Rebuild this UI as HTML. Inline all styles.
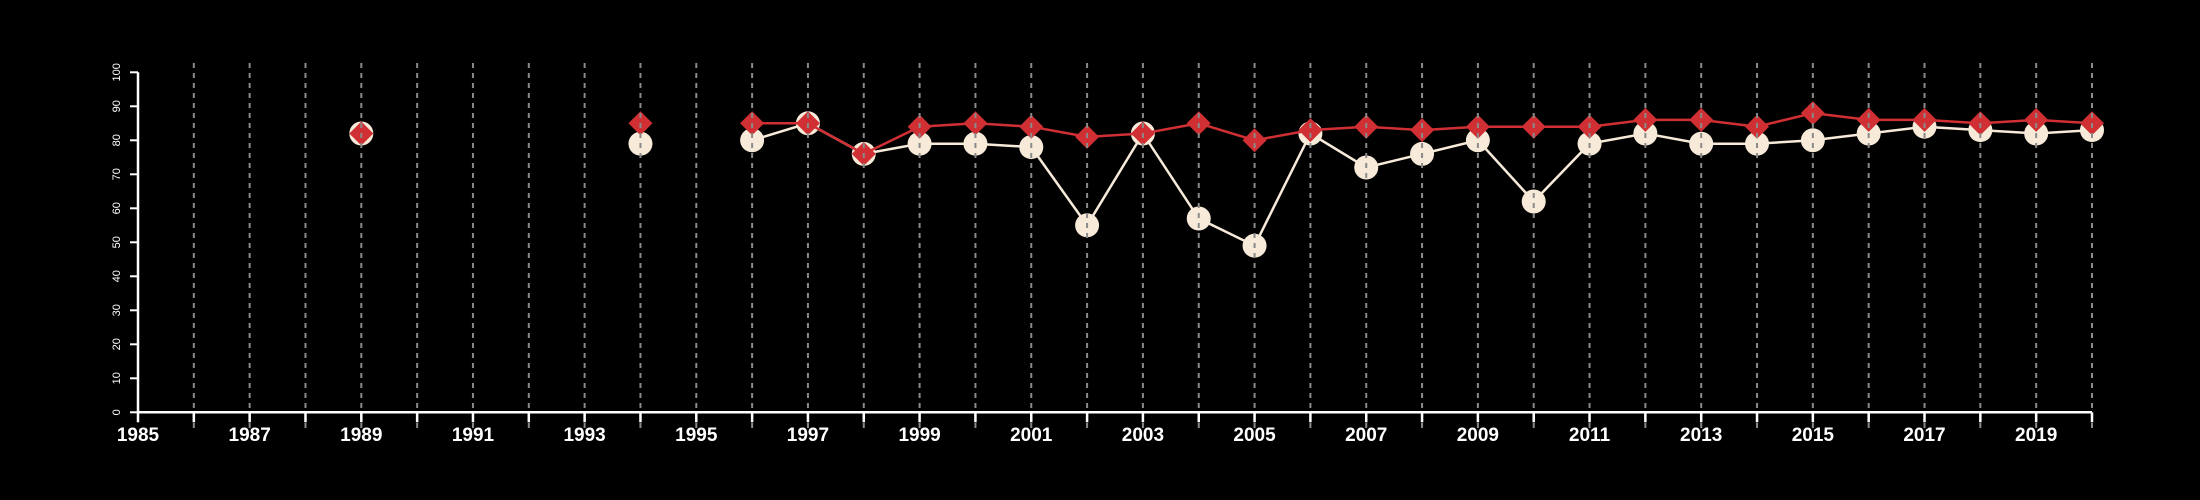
<!DOCTYPE html>
<html><head><meta charset="utf-8"><style>
html,body{margin:0;padding:0;background:#000;}
svg{display:block;}
text{font-family:"Liberation Sans",Arial,sans-serif;fill:#fff;}
</style></head><body>
<svg id="chart" width="2200" height="500" viewBox="0 0 2200 500" xmlns="http://www.w3.org/2000/svg">
<g id="series"></g>
<g id="grid"></g>
<g id="axes"></g>
</svg>
<script>
const years = [1989,1994,1996,1997,1998,1999,2000,2001,2002,2003,2004,2005,2006,2007,2008,2009,2010,2011,2012,2013,2014,2015,2016,2017,2018,2019,2020];
const whiteValues = [82,79,80,85,76,79,79,78,55,82,57,49,82,72,76,80,62,79,82,79,79,80,82,84,83,82,83];
const redValues = [82,85,85,85,76,84,85,84,81,82,85,80,83,84,83,84,84,84,86,86,84,88,86,86,85,86,85];
const yTicks = [0,10,20,30,40,50,60,70,80,90,100];
const xStart = 1985, xEnd = 2020;

const NS = "http://www.w3.org/2000/svg";
const X0 = 138, X1 = 2092, Y0 = 412.3, Y1 = 72.3;
function xs(v){ return X0 + (v - xStart) / (xEnd - xStart) * (X1 - X0); }
function ys(v){ return Y0 - v / 100 * (Y0 - Y1); }
function mk(tag, attrs, parent){ const e = document.createElementNS(NS, tag); for (const k in attrs) e.setAttribute(k, attrs[k]); parent.appendChild(e); return e; }

const series = document.getElementById('series');
const grid = document.getElementById('grid');
const axes = document.getElementById('axes');

function pathFor(vals){
  let d = '';
  for (let i = 0; i < years.length; i++){
    const cont = i > 0 && years[i] - years[i-1] === 1;
    d += (cont ? 'L' : 'M') + xs(years[i]).toFixed(1) + ' ' + ys(vals[i]).toFixed(1) + ' ';
  }
  return d;
}
// white series
const wl = mk('path', {d: pathFor(whiteValues), stroke: '#f7ead9', 'stroke-width': 2.5, fill: 'none'}, series);


for (let i = 0; i < years.length; i++){
  const c = mk('circle', {cx: xs(years[i]), cy: ys(whiteValues[i]), r: 12, fill: '#f7ead9'}, series);
  
  
}
// red series
const rl = mk('path', {d: pathFor(redValues), stroke: '#d03033', 'stroke-width': 2.5, fill: 'none'}, series);


for (let i = 0; i < years.length; i++){
  const x = xs(years[i]), y = ys(redValues[i]), s = 12;
  const p = mk('polygon', {points: `${x},${y-s} ${x+s},${y} ${x},${y+s} ${x-s},${y}`, fill: '#d03033'}, series);
  
  
}
// gridlines
for (let yr = xStart + 1; yr <= xEnd; yr++){
  const g = mk('line', {x1: xs(yr), x2: xs(yr), y1: 63, y2: 430, stroke: '#8a8a8a', 'stroke-width': 2, 'stroke-dasharray': '5 5'}, grid);
  
  
}
// axes
const xa = mk('line', {x1: X0, x2: X1, y1: Y0, y2: Y0, stroke: '#fff', 'stroke-width': 2.5}, axes);


const ya = mk('line', {x1: X0, x2: X0, y1: Y1, y2: Y0, stroke: '#fff', 'stroke-width': 2.5}, axes);


for (let yr = xStart; yr <= xEnd; yr++){
  const t = mk('line', {x1: xs(yr), x2: xs(yr), y1: Y0, y2: Y0 + 10, stroke: '#fff', 'stroke-width': 2.5}, axes);
  
  
  if ((yr - xStart) % 2 === 0){
    const l = mk('text', {x: xs(yr), y: 441, 'text-anchor': 'middle', 'font-size': 19, 'font-weight': 'bold'}, axes);
    l.textContent = yr;
    
    
  }
}
for (const v of yTicks){
  const y = ys(v);
  const t = mk('line', {x1: X0 - 8, x2: X0, y1: y, y2: y, stroke: '#fff', 'stroke-width': 2}, axes);
  
  
  const l = mk('text', {x: 0, y: 0, 'text-anchor': 'middle', 'font-size': 11, transform: `translate(120,${y}) rotate(-90)`}, axes);
  l.textContent = v;
  
  
}
</script>
</body></html>
